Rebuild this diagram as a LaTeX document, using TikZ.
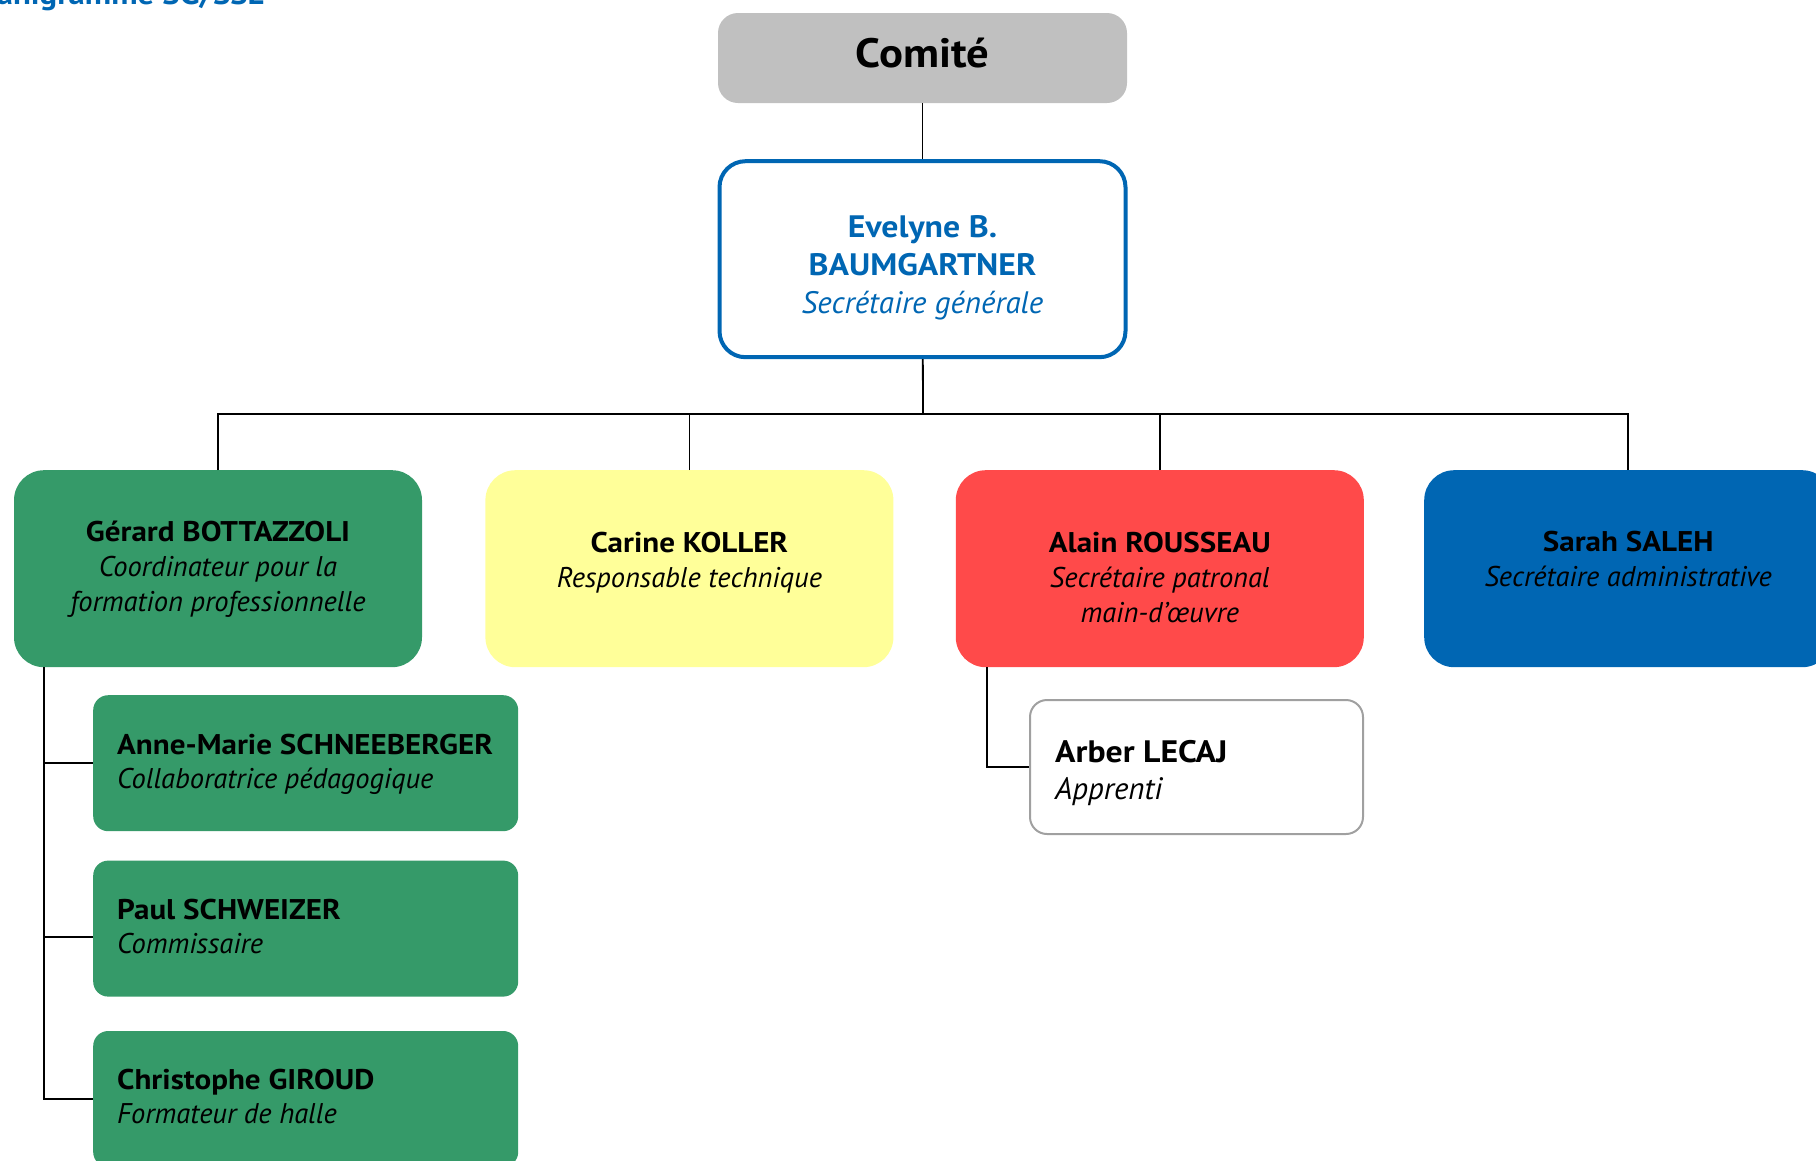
\documentclass[tikz,border=0pt]{standalone}
\usepackage{fontspec}
\setmainfont[BoldFeatures={FakeStretch=1.09}]{PT Sans}
\usepackage{tikz}
\usetikzlibrary{positioning}

\definecolor{comitegray}{HTML}{C0C0C0}
\definecolor{sgblue}{HTML}{0066B3}
\definecolor{formgreen}{HTML}{359A69}
\definecolor{techyellow}{HTML}{FFFF99}
\definecolor{patronred}{HTML}{FF4A4A}
\definecolor{apprgray}{HTML}{A0A0A0}

\newcommand{\staff}[3]{\begin{tabular}[t]{@{}#1@{}}{\normalfont\bfseries #2}\\#3\end{tabular}}

\begin{document}
\begin{tikzpicture}[x=1pt, y=-1pt,
    conn/.style={line width=1.8pt},
    unit/.style={rounded corners=30pt, minimum width=408pt, minimum height=197pt, inner sep=0pt},
    member/.style={rounded corners=15pt, minimum width=425pt, minimum height=136pt, inner sep=0pt, fill=formgreen},
    roletext/.style={inner sep=0pt, anchor=base, font=\fontsize{28.5}{35}\selectfont\itshape},
    membertext/.style={inner sep=0pt, anchor=base west, font=\fontsize{28.5}{34}\selectfont\itshape}]
  \useasboundingbox (0,0) rectangle (1816,1160);

  % title, cut by the page edge
  \node[anchor=base east, inner sep=0pt, text=sgblue, font=\bfseries\fontsize{30}{36}\selectfont] (title) at (265,4) {Organigramme SG/SSE};

  \node[fill=comitegray, rounded corners=20pt, minimum width=409pt, minimum height=90pt, inner sep=0pt,
        text height=29pt, text depth=11pt, font=\bfseries\fontsize{41}{48}\selectfont] (comite) at (922.5,58) {Comité};
  \node[draw=sgblue, line width=4pt, rounded corners=26pt, minimum width=406pt, minimum height=196pt,
        below=56pt of comite] (baumgartner) {};
  \node[roletext, text=sgblue, font=\fontsize{31}{38}\selectfont\itshape] (baumgartner-txt) at ([yshift=-78pt]baumgartner.north)
    {\begin{tabular}[t]{@{}c@{}}{\normalfont\bfseries Evelyne B.}\\{\normalfont\bfseries BAUMGARTNER}\\Secrétaire générale\end{tabular}};

  % services
  \node[unit, fill=formgreen, anchor=north] (bottazzoli) at (218,470) {};
  \node[unit, fill=techyellow, right=63pt of bottazzoli] (koller) {};
  \node[unit, fill=patronred, right=62pt of koller] (rousseau) {};
  \node[unit, fill=sgblue, right=60pt of rousseau] (saleh) {};

  \node[roletext] (bottazzoli-txt) at ([yshift=-71pt]bottazzoli.north) {\staff{c}{Gérard BOTTAZZOLI}{Coordinateur pour la\\formation professionnelle}};
  \node[roletext] (koller-txt) at ([yshift=-82pt]koller.north) {\staff{c}{Carine KOLLER}{Responsable technique}};
  \node[roletext] (rousseau-txt) at ([yshift=-82pt]rousseau.north) {\staff{c}{Alain ROUSSEAU}{Secrétaire patronal\\main-d’œuvre}};
  \node[roletext] (saleh-txt) at ([yshift=-81pt]saleh.north) {\staff{c}{Sarah SALEH}{Secrétaire administrative}};

  % formation
  \node[member, anchor=north west] (schneeberger) at (93,695) {};
  \node[member, below=29pt of schneeberger] (schweizer) {};
  \node[member, below=34pt of schweizer] (giroud) {};
  \node[membertext] (schneeberger-txt) at ([xshift=24pt, yshift=-59pt]schneeberger.north west) {\staff{l}{Anne-Marie SCHNEEBERGER}{Collaboratrice pédagogique}};
  \node[membertext] (schweizer-txt) at ([xshift=24pt, yshift=-59pt]schweizer.north west) {\staff{l}{Paul SCHWEIZER}{Commissaire}};
  \node[membertext] (giroud-txt) at ([xshift=24pt, yshift=-59pt]giroud.north west) {\staff{l}{Christophe GIROUD}{Formateur de halle}};

  \node[member, fill=white, draw=apprgray, line width=2pt, rounded corners=17pt, minimum width=333pt, minimum height=134pt,
        anchor=north west] (lecaj) at (1029,699) {};
  \node[membertext, font=\fontsize{31}{37}\selectfont\itshape] (lecaj-txt) at ([xshift=26pt, yshift=-63pt]lecaj.north west) {\staff{l}{Arber LECAJ}{Apprenti}};

  % lines
  \coordinate (bus) at (923,414);
  \draw[conn] (comite) -- (baumgartner);
  \draw[conn] (baumgartner) -- (bus);
  \draw[conn] (bottazzoli.north) |- (bus) -| (saleh.north);
  \draw[conn] (koller.north) -- (koller.north |- bus);
  \draw[conn] (rousseau.north) -- (rousseau.north |- bus);

  \coordinate (gspine) at ([xshift=-174pt]bottazzoli.south);
  \draw[conn] (gspine) |- (giroud.west);
  \draw[conn] (gspine |- schneeberger.west) -- (schneeberger.west);
  \draw[conn] ([yshift=-8pt]schweizer.west -| gspine) -- ([yshift=-8pt]schweizer.west);

  \coordinate (rspine) at ([xshift=-173pt]rousseau.south);
  \draw[conn] (rspine) |- (lecaj.west);
\end{tikzpicture}
\end{document}
